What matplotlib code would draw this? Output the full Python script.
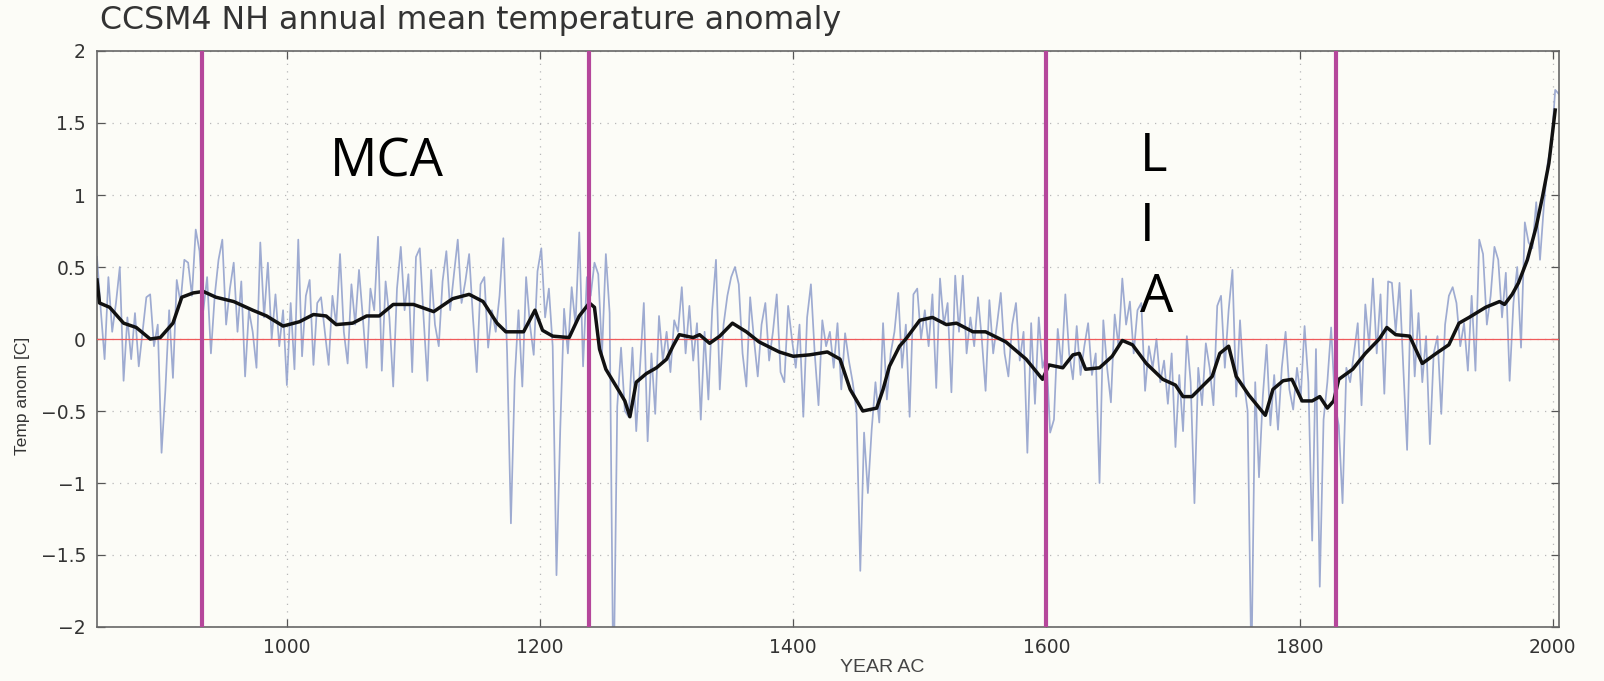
import numpy as np
import matplotlib
matplotlib.use("Agg")
import matplotlib.pyplot as plt

# ---------------- data ----------------
title = "CCSM4 NH annual mean temperature anomaly"
xlabel = "YEAR AC"
ylabel = "Temp anom [C]"

# annual series sampled every 3 years, 850 ... 2005
annual_start, annual_step = 850, 3
annual_vals = [
    0.57, 0.20, -0.14, 0.43, 0.05, 0.25, 0.50, -0.29, 0.15, -0.14,   # 850
    0.18, -0.19, 0.05, 0.29, 0.31, -0.05, 0.10, -0.79, -0.36, 0.20,  # 880
    -0.27, 0.41, 0.25, 0.55, 0.53, 0.30, 0.76, 0.61, 0.20, 0.43,     # 910
    -0.10, 0.30, 0.55, 0.69, 0.10, 0.35, 0.53, 0.05, 0.40, -0.26,    # 940
    0.20, 0.05, -0.20, 0.67, 0.15, 0.53, 0.00, 0.31, -0.05, 0.20,    # 970
    -0.32, 0.25, -0.21, 0.69, -0.12, 0.30, 0.41, -0.18, 0.25, 0.29,  # 1000
    0.05, -0.18, 0.30, 0.10, 0.59, 0.05, -0.17, 0.38, 0.10, 0.48,    # 1030
    0.15, -0.20, 0.35, 0.20, 0.71, -0.22, 0.40, 0.15, -0.33, 0.35,   # 1060
    0.64, 0.20, 0.45, -0.23, 0.57, 0.63, 0.15, -0.29, 0.48, 0.10,    # 1090
    -0.05, 0.40, 0.61, 0.20, 0.45, 0.69, 0.25, 0.40, 0.59, 0.15,     # 1120
    -0.23, 0.38, 0.43, -0.06, 0.20, 0.05, 0.30, 0.70, -0.10, -1.28,  # 1150
    -0.28, 0.20, -0.33, 0.43, 0.10, -0.11, 0.47, 0.63, 0.15, 0.35,   # 1180
    -0.05, -1.64, -0.62, 0.21, -0.10, 0.36, 0.10, 0.74, -0.19, 0.43, # 1210
    0.30, 0.53, 0.45, -0.10, 0.59, 0.18, -2.50, -0.47, -0.06, -0.50, # 1240
    -0.54, -0.06, -0.64, -0.20, 0.25, -0.71, -0.10, -0.52, 0.16, -0.15,  # 1270
    0.05, -0.23, 0.13, 0.05, 0.36, -0.10, 0.23, -0.15, 0.11, -0.56,  # 1300
    0.05, -0.42, 0.20, 0.55, -0.35, 0.10, 0.30, 0.43, 0.50, 0.38,    # 1330
    -0.10, -0.33, 0.29, 0.00, -0.26, 0.10, 0.25, -0.15, 0.05, 0.31,  # 1360
    -0.23, -0.30, 0.23, 0.00, -0.20, 0.10, -0.54, 0.15, 0.38, -0.10, # 1390
    -0.46, 0.13, -0.05, 0.05, -0.20, 0.11, -0.35, 0.04, -0.15, -0.30,  # 1420
    -0.50, -1.61, -0.65, -1.07, -0.63, -0.30, -0.58, 0.11, -0.42, -0.10,  # 1450
    0.05, 0.32, -0.20, 0.10, -0.54, 0.31, 0.35, 0.00, 0.20, -0.05,   # 1480
    0.31, -0.34, 0.42, 0.10, 0.25, -0.37, 0.44, 0.05, 0.44, -0.10,   # 1510
    0.15, -0.05, 0.29, 0.00, -0.36, 0.27, -0.10, 0.10, 0.32, -0.10,  # 1540
    -0.26, 0.10, 0.25, -0.15, 0.05, -0.79, 0.11, -0.45, 0.15, -0.20, # 1570
    -0.10, -0.65, -0.56, 0.07, -0.20, 0.31, -0.10, -0.28, 0.09, -0.25,  # 1600
    -0.05, 0.11, -0.25, -0.10, -1.00, 0.13, -0.20, -0.44, 0.17, -0.05,  # 1630
    0.42, 0.10, 0.26, -0.10, 0.20, 0.25, -0.36, -0.05, -0.20, 0.00,  # 1660
    -0.30, -0.15, -0.45, -0.10, -0.75, -0.25, -0.64, 0.02, -0.30, -1.14,  # 1690
    -0.20, -0.46, -0.03, -0.20, -0.46, 0.23, 0.30, -0.20, 0.20, 0.48,  # 1720
    -0.40, 0.13, -0.30, -0.50, -2.30, -0.30, -0.96, -0.40, -0.04, -0.60,  # 1750
    -0.25, -0.63, -0.20, 0.05, -0.35, -0.49, -0.20, -0.40, 0.09, -0.30,  # 1780
    -1.40, -0.07, -1.72, -0.56, -0.30, 0.08, -0.45, -0.60, -1.14, -0.20,  # 1810
    -0.30, -0.10, 0.11, -0.46, 0.24, -0.05, 0.42, -0.10, 0.31, -0.38,  # 1840
    0.40, 0.39, 0.05, 0.39, -0.20, -0.77, 0.34, -0.26, 0.18, -0.30,  # 1870
    0.02, -0.73, -0.10, 0.02, -0.52, 0.10, 0.30, 0.36, 0.25, -0.05,  # 1900
    0.11, -0.22, 0.30, -0.22, 0.69, 0.59, 0.10, 0.30, 0.64, 0.55,    # 1930
    0.15, 0.46, -0.29, 0.25, 0.50, -0.06, 0.81, 0.67, 0.63, 0.95,    # 1960
    0.55, 0.92, 1.22, 1.35, 1.73, 1.70,                              # 1990
]

# smoothed series (year, value)
smooth_years = [850, 852, 860, 871, 881, 892, 900, 910, 917, 926, 934, 944, 958,
                973, 984, 997, 1010, 1021, 1031, 1039, 1052, 1063, 1073, 1084,
                1100, 1116, 1131, 1144, 1155, 1166, 1173, 1187, 1196, 1202,
                1210, 1223, 1231, 1239, 1243, 1247, 1252, 1263, 1267, 1271,
                1276, 1284, 1292, 1300, 1305, 1310, 1321, 1326, 1334, 1342,
                1352, 1363, 1373, 1389, 1400, 1413, 1427, 1437, 1445, 1455,
                1466, 1471, 1476, 1484, 1489, 1500, 1510, 1521, 1529, 1542,
                1552, 1568, 1584, 1597, 1602, 1613, 1621, 1626, 1631, 1642,
                1652, 1660, 1668, 1679, 1692, 1702, 1708, 1715, 1723, 1731,
                1737, 1744, 1750, 1760, 1773, 1779, 1787, 1794, 1802, 1810,
                1816, 1822, 1827, 1831, 1842, 1852, 1863, 1869, 1876, 1887,
                1897, 1908, 1918, 1926, 1934, 1947, 1958, 1962, 1968, 1973,
                1980, 1987, 1992, 1997, 2002]
smooth_vals = [0.41, 0.25, 0.22, 0.11, 0.08, 0.00, 0.01, 0.11, 0.29, 0.32, 0.33, 0.29, 0.26,
               0.20, 0.16, 0.09, 0.12, 0.17, 0.16, 0.10, 0.11, 0.16, 0.16, 0.24,
               0.24, 0.19, 0.28, 0.31, 0.26, 0.11, 0.05, 0.05, 0.20, 0.06,
               0.02, 0.01, 0.16, 0.25, 0.22, -0.07, -0.21, -0.37, -0.43, -0.54,
               -0.30, -0.24, -0.20, -0.14, -0.05, 0.03, 0.01, 0.03, -0.03, 0.02,
               0.11, 0.05, -0.02, -0.09, -0.12, -0.11, -0.09, -0.14, -0.35, -0.50,
               -0.48, -0.35, -0.19, -0.05, 0.00, 0.13, 0.15, 0.10, 0.11, 0.05,
               0.05, -0.02, -0.14, -0.28, -0.18, -0.20, -0.11, -0.10, -0.21, -0.20,
               -0.12, -0.01, -0.04, -0.17, -0.28, -0.32, -0.40, -0.40, -0.33, -0.26,
               -0.10, -0.05, -0.26, -0.39, -0.53, -0.35, -0.29, -0.28, -0.43, -0.43,
               -0.40, -0.48, -0.43, -0.28, -0.21, -0.10, 0.00, 0.08, 0.03, 0.02,
               -0.17, -0.10, -0.04, 0.11, 0.15, 0.22, 0.26, 0.24, 0.31, 0.39,
               0.55, 0.78, 0.99, 1.22, 1.59]

period_years = [933, 1239, 1600, 1829]
period_labels = ["MCA", "L", "I", "A"]
xticks = [1000, 1200, 1400, 1600, 1800, 2000]
yticks = [-2, -1.5, -1, -0.5, 0, 0.5, 1, 1.5, 2]
ytick_labels = ["\u22122", "\u22121.5", "\u22121", "\u22120.5", "0", "0.5", "1", "1.5", "2"]

# ---------------- figure ----------------
W, H = 1604, 681
bg = "#fcfcf7"
fig = plt.figure(figsize=(W / 100, H / 100), dpi=100, facecolor=bg)
ax = fig.add_axes([97 / W, 1 - 627 / H, (1559 - 97) / W, (627 - 51) / H], facecolor=bg)

annual_years = annual_start + annual_step * np.arange(len(annual_vals))
ax.plot(annual_years, annual_vals, color="#8e9dcb", lw=1.25, alpha=0.85, zorder=2)
ax.axhline(0, color="#f05a5a", lw=0.9, zorder=3)
ax.plot(smooth_years, smooth_vals, color="#111111", lw=2.5, zorder=4,
        solid_joinstyle="round")
for yr in period_years:
    ax.axvline(yr, color="#b5479b", lw=3.0, zorder=5)

ax.set_xlim(850, 2005)
ax.set_ylim(-2, 2)
ax.set_xticks(xticks)
ax.set_xticklabels([str(t) for t in xticks])
ax.set_yticks(yticks)
ax.set_yticklabels(ytick_labels)
ax.grid(True, color="#b8b8b8", linestyle=(0, (1, 5)), lw=0.9)
ax.set_axisbelow(True)
ax.tick_params(direction="in", length=6, width=0.9, color="#555555",
               top=True, right=True, labelsize=13.5, labelcolor="#333333", pad=8)
for lab in ax.get_xticklabels() + ax.get_yticklabels():
    lab.set_family("DejaVu Sans")
for sp in ax.spines.values():
    sp.set_color("#666666")
    sp.set_linewidth(1.2)

fig.text(100 / W, 1 - 20 / H, title, ha="left", va="center",
         fontsize=22.8, color="#333333", family="DejaVu Sans")
fig.text(882 / W, 1 - 668 / H, xlabel, ha="center", va="center",
         fontsize=14, color="#444444", family="Liberation Sans")
fig.text(23 / W, 1 - 396 / H, ylabel, ha="center", va="center", rotation=90,
         fontsize=12.5, color="#333333", family="Liberation Sans")

# period annotations
ax.text(1079, 1.127, period_labels[0], ha="center", va="baseline", fontsize=38,
        family="Open Sans", color="black", zorder=6)
for ch, yv in zip(period_labels[1:], [1.169, 0.683, 0.19]):
    ax.text(1674, yv, ch, ha="left", va="baseline", fontsize=38,
            family="Open Sans", color="black", zorder=6)

fig.savefig("out.png", dpi=100, facecolor=bg)
